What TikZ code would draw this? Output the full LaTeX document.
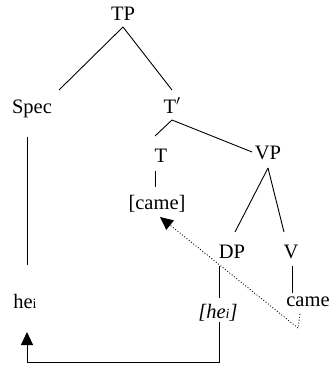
\documentclass[tikz,border=0pt]{standalone}
\usepackage{fontspec}
\setmainfont{Liberation Serif}
\usetikzlibrary{arrows.meta}
\begin{document}
\begin{tikzpicture}[x=1pt,y=-1pt,
  lab/.style={inner sep=0pt,anchor=base,font=\fontsize{20.5}{24}\selectfont},
  edge/.style={line width=0.9pt},
  arr/.style={-{Triangle[length=13pt,width=12pt]}},
  mv/.style={line width=0.9pt,dotted}]
\useasboundingbox (0,0) rectangle (331,366);
\node[lab] (TP) at (123,20.5) {TP};
\node[lab] (Spec) at (32,113.5) {Spec};
\node[lab] (Tbar) at (172,113.5) {T$'$};
\node[lab] (T) at (161,162) {T};
\node[lab] (VP) at (268,160) {VP};
\node[lab] (came1) at (157,209.5) {[came]};
\node[lab] (DP) at (232,258) {DP};
\node[lab] (V) at (291,258) {V};
\node[lab] (he) at (25,308) {he{\fontsize{14}{16}\selectfont i}};
\node[lab] (hetr) at (218,318) {\itshape [he{\fontsize{14}{16}\selectfont i}]};
\node[lab] (came2) at (308,306.7) {came};
% tree edges
\coordinate (tpb) at (123,27);
\draw[edge] (tpb) -- (59,90) coordinate (specT);
\draw[edge] (tpb) -- (172,90) coordinate (tbarT);
\coordinate (tbarb) at (172,120);
\draw[edge] (tbarb) -- (155,136) coordinate (tT);
\draw[edge] (tbarb) -- (252,152) coordinate (vpT);
\draw[edge] (155,171) coordinate (tb) -- (155,187) coordinate (c1t);
\coordinate (vpb) at (268,168);
\draw[edge] (vpb) -- (235,232) coordinate (dpT);
\draw[edge] (vpb) -- (284,232) coordinate (vT);
\draw[edge] (219,266) coordinate (dpb) -- (219,298) coordinate (htt);
\draw[edge] (292,266) coordinate (vb) -- (292,293) coordinate (c2t);
\draw[edge] (27,137) coordinate (specb) -- (27,265) coordinate (het);
% movement arrows
\coordinate (htb) at (219,322);
\coordinate (corner1) at (219,362);
\coordinate (corner2) at (27,362);
\coordinate (heb) at (27,332);
\draw[edge,arr] (htb) -- (corner1) -- (corner2) -- (heb);
\coordinate (c2b) at (300,314);
\coordinate (dotc) at (298,328);
\coordinate (c1b) at (160,217);
\draw[mv] (c2b) -- (dotc);
\draw[mv,arr] (dotc) -- (c1b);
\end{tikzpicture}
\end{document}
